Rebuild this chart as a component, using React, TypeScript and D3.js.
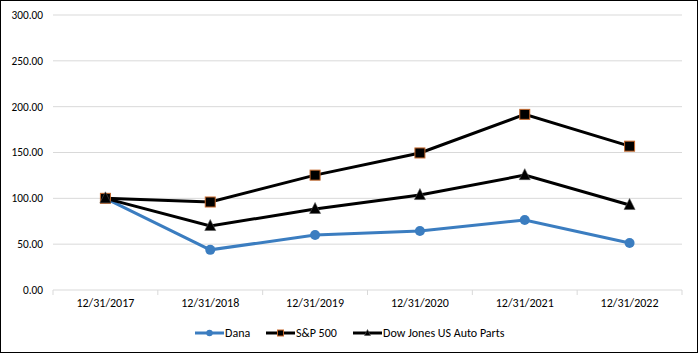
import React from "react";
import * as d3 from "d3";

const categories = ["12/31/2017", "12/31/2018", "12/31/2019", "12/31/2020", "12/31/2021", "12/31/2022"];
const dana = [100, 43.8, 60.0, 64.4, 76.4, 51.3];
const sp500 = [100, 96.0, 125.3, 149.5, 191.6, 156.9];
const djAuto = [100, 69.8, 88.4, 103.6, 125.3, 92.7];
const yTicks = [0, 50, 100, 150, 200, 250, 300];
const seriesNames = ["Dana", "S&P 500", "Dow Jones US Auto Parts"];

const W = 698, H = 353;
const margin = { left: 53, right: 16, top: 15, bottom: 63 };

export default function App() {
  const x = d3.scaleBand<string>().domain(categories).range([margin.left, W - margin.right]);
  const y = d3.scaleLinear().domain([0, 300]).range([H - margin.bottom, margin.top]);
  const cx = (c: string) => (x(c) as number) + x.bandwidth() / 2;
  const line = d3.line<number>().x((_, i) => cx(categories[i])).y((d) => y(d));
  const font = "Calibri, Carlito, Lato, 'Open Sans', 'Liberation Sans', sans-serif";
  const blue = "#3b7dc0";

  const square = (px: number, py: number, key: string, s = 10) => (
    <rect key={key} x={px - s / 2} y={py - s / 2} width={s} height={s} fill="#000" stroke="#c5682c" strokeWidth={1} />
  );
  const tri = (px: number, py: number, key: string, s = 11) => (
    <path key={key} d={`M${px},${py - s / 2 - 1}L${px + s / 2},${py + s / 2 - 1}L${px - s / 2},${py + s / 2 - 1}Z`} fill="#000" stroke="#555" strokeWidth={0.6} />
  );

  const legendY = 333;
  const legend = [
    { x0: 195, name: seriesNames[0], kind: "c" },
    { x0: 266, name: seriesNames[1], kind: "s" },
    { x0: 353, name: seriesNames[2], kind: "t" },
  ];

  return (
    <svg width={W} height={H} style={{ position: "absolute", left: 0, top: 0 }}>
      <rect x={0.5} y={0.5} width={W - 1} height={H - 1} fill="#fff" stroke="#000" strokeWidth={1} />
      {yTicks.map((t) => (
        <g key={t}>
          <line x1={margin.left} x2={W - margin.right} y1={y(t)} y2={y(t)} stroke="#d9d9d9" strokeWidth={1} />
          <text x={43} y={y(t)} dy="0.35em" textAnchor="end" fontSize={11.3} fontFamily={font} fill="#000">
            {t.toFixed(2)}
          </text>
        </g>
      ))}
      {categories.map((c, i) => (
        <line key={"tk" + i} x1={x(c) as number} x2={x(c) as number} y1={y(0)} y2={y(0) + 5} stroke="#d9d9d9" />
      ))}
      <line x1={W - margin.right} x2={W - margin.right} y1={y(0)} y2={y(0) + 5} stroke="#d9d9d9" />
      {categories.map((c) => (
        <text key={c} x={cx(c)} y={303} dy="0.35em" textAnchor="middle" fontSize={12} fontFamily={font} fill="#000">
          {c}
        </text>
      ))}
      <path d={line(dana) || ""} fill="none" stroke={blue} strokeWidth={3} />
      <path d={line(djAuto) || ""} fill="none" stroke="#000" strokeWidth={3} />
      <path d={line(sp500) || ""} fill="none" stroke="#000" strokeWidth={3} />
      {dana.map((v, i) => (
        <circle key={"d" + i} cx={cx(categories[i])} cy={y(v)} r={5} fill={blue} />
      ))}
      {sp500.map((v, i) => square(cx(categories[i]), y(v), "s" + i))}
      {djAuto.map((v, i) => tri(cx(categories[i]), y(v), "t" + i))}
      {legend.map((l) => (
        <g key={l.name}>
          <line x1={l.x0} x2={l.x0 + 29} y1={legendY} y2={legendY} stroke={l.kind === "c" ? blue : "#000"} strokeWidth={3} />
          {l.kind === "c" && <circle cx={l.x0 + 14.5} cy={legendY} r={3.2} fill={blue} />}
          {l.kind === "s" && square(l.x0 + 14.5, legendY, "ls", 6)}
          {l.kind === "t" && tri(l.x0 + 14.5, legendY + 0.5, "lt", 6)}
          <text x={l.x0 + 30} y={legendY} dy="0.35em" fontSize={12} fontFamily={font} fill="#000">
            {l.name}
          </text>
        </g>
      ))}
    </svg>
  );
}
